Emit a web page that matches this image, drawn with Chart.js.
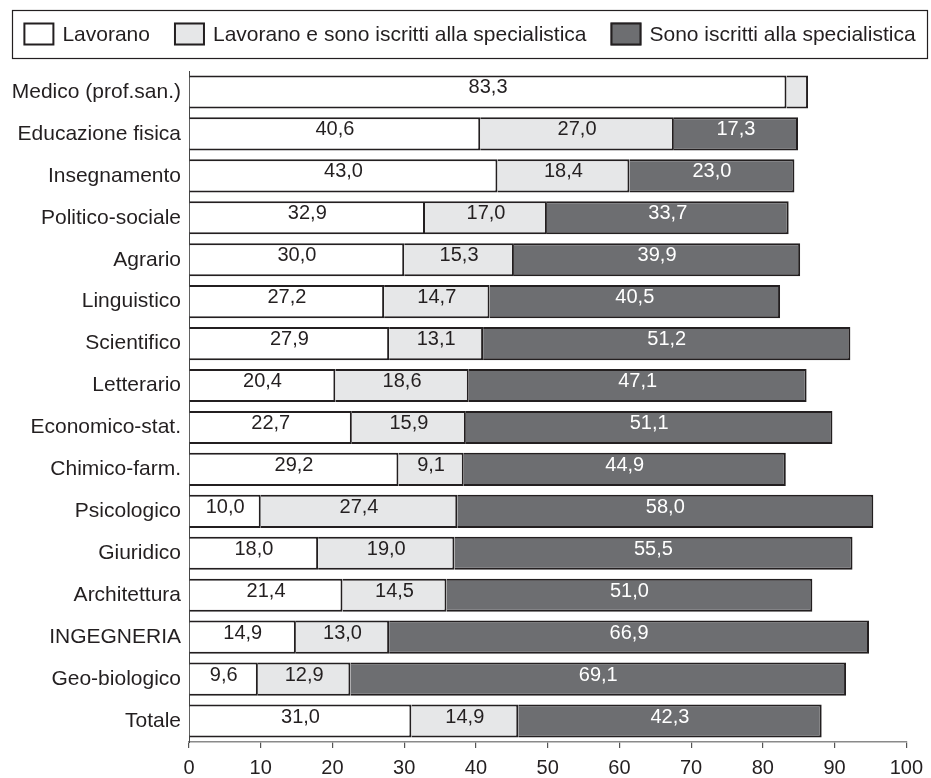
<!DOCTYPE html>
<html>
<head>
<meta charset="utf-8">
<script src="https://cdn.jsdelivr.net/npm/chart.js@4/dist/chart.umd.min.js"></script>
<style>
  html, body { margin: 0; padding: 0; background: #fff; }
  #wrap { width: 931px; height: 778px; position: relative; }
</style>
</head>
<body>
<div id="wrap"><canvas id="c" width="931" height="778"></canvas></div>
<script>
const categories = ["Medico (prof.san.)", "Educazione fisica", "Insegnamento", "Politico-sociale", "Agrario", "Linguistico", "Scientifico", "Letterario", "Economico-stat.", "Chimico-farm.", "Psicologico", "Giuridico", "Architettura", "INGEGNERIA", "Geo-biologico", "Totale"];
const lavorano = [83.3, 40.6, 43.0, 32.9, 30.0, 27.2, 27.9, 20.4, 22.7, 29.2, 10.0, 18.0, 21.4, 14.9, 9.6, 31.0];
const lavoranoIscritti = [3.0, 27.0, 18.4, 17.0, 15.3, 14.7, 13.1, 18.6, 15.9, 9.1, 27.4, 19.0, 14.5, 13.0, 12.9, 14.9];
const iscritti = [null, 17.3, 23.0, 33.7, 39.9, 40.5, 51.2, 47.1, 51.1, 44.9, 58.0, 55.5, 51.0, 66.9, 69.1, 42.3];
const seriesNames = ["Lavorano", "Lavorano e sono iscritti alla specialistica", "Sono iscritti alla specialistica"];
const seriesColors = ["#ffffff", "#e6e7e8", "#6d6e71"];
const xTicks = [0, 10, 20, 30, 40, 50, 60, 70, 80, 90, 100];

const FONT = "'Liberation Sans', Arial, Helvetica, sans-serif";
const INK = '#231f20';

const labelPlugin = {
  id: 'barLabels',
  afterDatasetsDraw(chart) {
    const ctx = chart.ctx;
    ctx.save();
    ctx.font = "20px " + FONT;
    ctx.textAlign = 'center';
    ctx.textBaseline = 'middle';
    chart.data.datasets.forEach((ds, di) => {
      const meta = chart.getDatasetMeta(di);
      meta.data.forEach((bar, i) => {
        const v = ds.data[i];
        if (v == null) return;
        const w = Math.abs(bar.x - bar.base);
        if (w < 30) return;
        ctx.fillStyle = di === 2 ? '#ffffff' : INK;
        ctx.fillText(v.toFixed(1).replace('.', ','), (bar.x + bar.base) / 2, bar.y - 4);
      });
    });
    ctx.restore();
  }
};

// Framed legend, laid out from the dataset labels and colours
const framedLegend = {
  id: 'framedLegend',
  afterDraw(chart) {
    const ctx = chart.ctx;
    const boxW = 31, boxH = 23, gapText = 8, gapItem = 24;
    const frame = { left: 12, right: 927, top: 10, bottom: 58 };
    ctx.save();
    ctx.font = "21px " + FONT;
    const items = chart.data.datasets.map(ds => ({ text: ds.label, color: ds.backgroundColor, w: ctx.measureText(ds.label).width }));
    const total = items.reduce((s, it) => s + boxW + gapText + it.w, 0) + gapItem * (items.length - 1);
    let x = (frame.left + frame.right) / 2 - total / 2;
    const cy = (frame.top + frame.bottom) / 2;
    ctx.strokeStyle = INK;
    ctx.lineWidth = 1.2;
    ctx.strokeRect(frame.left + 0.5, frame.top + 0.5, frame.right - frame.left, frame.bottom - frame.top);
    ctx.textBaseline = 'middle';
    ctx.textAlign = 'left';
    items.forEach(it => {
      ctx.fillStyle = it.color;
      ctx.fillRect(x, cy - boxH / 2, boxW, boxH);
      ctx.lineWidth = 2;
      ctx.strokeStyle = INK;
      ctx.strokeRect(x + 1, cy - boxH / 2 + 1, boxW - 2, boxH - 2);
      ctx.fillStyle = INK;
      ctx.fillText(it.text, x + boxW + gapText, cy + 1);
      x += boxW + gapText + it.w + gapItem;
    });
    ctx.restore();
  }
};

new Chart(document.getElementById('c'), {
  type: 'bar',
  data: {
    labels: categories,
    datasets: [
      { label: seriesNames[0], data: lavorano, backgroundColor: seriesColors[0], borderColor: INK, borderWidth: 2 },
      { label: seriesNames[1], data: lavoranoIscritti, backgroundColor: seriesColors[1], borderColor: INK, borderWidth: 2 },
      { label: seriesNames[2], data: iscritti, backgroundColor: seriesColors[2], borderColor: INK, borderWidth: 2 }
    ]
  },
  options: {
    indexAxis: 'y',
    responsive: false,
    animation: false,
    devicePixelRatio: 1,
    layout: { padding: { left: 0, right: 23, top: 71, bottom: 0 } },
    datasets: { bar: { categoryPercentage: 0.79, barPercentage: 1.0 } },
    plugins: {
      legend: { display: false },
      tooltip: { enabled: false }
    },
    scales: {
      x: {
        stacked: true,
        min: 0, max: 100,
        afterBuildTicks(axis) { axis.ticks = xTicks.map(v => ({ value: v })); },
        afterFit(axis) { axis.height = 36; },
        ticks: { color: INK, font: { family: FONT, size: 20 }, padding: 8, maxRotation: 0 },
        grid: { drawOnChartArea: false, drawTicks: true, tickLength: 6, color: '#555555', lineWidth: 1.2 },
        border: { display: true, color: '#8a8a8a', width: 1.5 }
      },
      y: {
        stacked: true,
        afterFit(axis) { axis.width = 189; },
        ticks: { color: INK, font: { family: FONT, size: 21 }, padding: 8 },
        grid: { drawOnChartArea: false, drawTicks: false },
        border: { display: true, color: '#444444', width: 1 }
      }
    }
  },
  plugins: [labelPlugin, framedLegend]
});
</script>
</body>
</html>
